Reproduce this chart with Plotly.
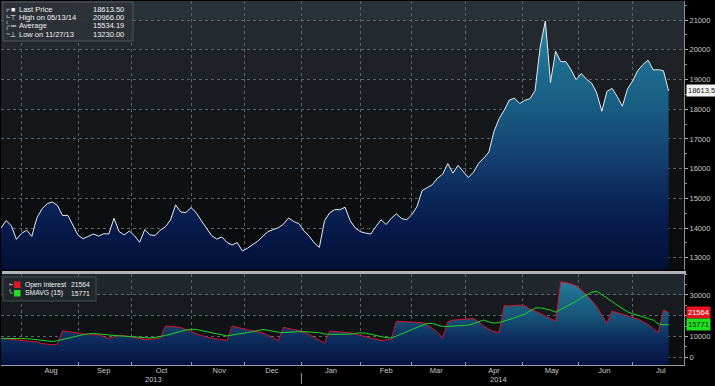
import plotly.graph_objects as go
import pandas as pd

# ---------------- data ----------------
START_DATE = "2013-07-22"   # every 2nd business day from here
price = [14000, 14250, 14080, 13620, 13820, 13930, 13720, 14350, 14650, 14820,
         14880, 14760, 14420, 14430, 14100, 13760, 13640, 13720, 13800, 13730,
         13810, 13800, 14330, 13880, 13770, 13900, 13740, 13520, 13950, 13770,
         13750, 13930, 14040, 14270, 14780, 14540, 14520, 14690, 14520, 14250,
         14000, 13750, 13630, 13700, 13520, 13430, 13510, 13230, 13320, 13430,
         13560, 13730, 13880, 13950, 14010, 14130, 14340, 14220, 14150, 13900,
         13730, 13500, 13350, 14250, 14510, 14620, 14620, 14700, 14250, 14000,
         13880, 13830, 13800, 14050, 14280, 14120, 14330, 14480, 14320, 14280,
         14450, 14720, 15260, 15360, 15460, 15680, 15810, 16170, 15850, 16110,
         15900, 15700, 15880, 16180, 16350, 16560, 17250, 17680, 17970, 18310,
         18370, 18190, 18300, 18350, 18630, 20100, 20966, 18900, 19950, 19600,
         19600, 19330, 18990, 19200, 19010, 18880, 18550, 17930, 18600, 18700,
         18420, 18100, 18680, 18950, 19300, 19500, 19650, 19320, 19330, 19290,
         18613.5]
open_interest = [9150, 8950, 8720, 8500, 8330, 8100, 7900, 7400, 6600, 6150,
                 6000, 6400, 12800, 12350, 11950, 11700, 11300, 10900, 10900, 10800,
                 9950, 8950, 9900, 10600, 10400, 10000, 9600, 9200, 8600, 8600,
                 9000, 9300, 15090, 14900, 14650, 14400, 13400, 12200, 11300, 10600,
                 9800, 9100, 8850, 8500, 8030, 15000, 14300, 13600, 13200, 12900,
                 12300, 11650, 10500, 9200, 8030, 14400, 13700, 13300, 12900, 12000,
                 11000, 9400, 8100, 6800, 12700, 12500, 12350, 12150, 11700, 11150,
                 10500, 9900, 9100, 8500, 8050, 8400, 8700, 17300, 17170, 17170,
                 16900, 16690, 16690, 15700, 14000, 12000, 9150, 17100, 17900, 18100,
                 18300, 18800, 18700, 17100, 15000, 13500, 12400, 11900, 24900, 24720,
                 24900, 25100, 24800, 23150, 22300, 21100, 19900, 18700, 17400, 36300,
                 36000, 35300, 34450, 32400, 30100, 27300, 24400, 20300, 16400, 22200,
                 21550, 20800, 19950, 19100, 18500, 17200, 15800, 13800, 12000, 22700,
                 21564]
smavg15 = [9150, 9150, 9150, 9150, 9100, 8950, 8750, 8500, 8150, 7850,
           7600, 8000, 8600, 9200, 9900, 10450, 10900, 11250, 11550, 11250,
           10950, 10700, 10500, 10300, 10200, 10050, 9900, 9600, 9300, 9300,
           9600, 9950, 10500, 11150, 11950, 12550, 13100, 13450, 13400, 12900,
           12400, 11800, 11200, 10600, 10300, 10750, 11250, 11500, 11950, 12300,
           12800, 13400, 13000, 12400, 12100, 11900, 12100, 12350, 12360, 12360,
           12250, 12100, 11850, 11200, 10950, 11050, 11100, 11070, 11200, 11500,
           11800, 11650, 11000, 10500, 9950, 9500, 9300, 10200, 11300, 12300,
           13500, 14450, 15400, 16300, 16300, 15500, 14900, 14850, 15000, 15150,
           15300, 15500, 16200, 17100, 17950, 17000, 16500, 16700, 17400, 18250,
           19000, 19900, 20800, 22300, 23700, 23800, 23300, 22750, 21700, 23000,
           24400, 25400, 27000, 28700, 30000, 31300, 31800, 30000, 28300, 26800,
           25100, 23500, 21900, 20900, 20300, 19550, 18700, 17900, 16100, 15600,
           15771]

legend_price_labels = ["Last Price", "High on 05/13/14", "Average", "Low on 11/27/13"]
legend_price_values = ["18613.50", "20966.00", "15534.19", "13230.00"]
legend_oi_labels = ["Open Interest", "SMAVG (15)"]
legend_oi_values = ["21564", "15771"]
last_price, last_oi, last_sma = 18613.5, 21564, 15771
price_ticks = [13000, 14000, 15000, 16000, 17000, 18000, 19000, 20000, 21000]
oi_ticks = [0, 10000, 20000, 30000]
oi_ticktext = ["0", "10000", "", "30000"]
year_labels = ["2013", "2014"]

dates = pd.bdate_range(start=START_DATE, periods=len(price), freq="2B")

# ---------------- layout constants ----------------
W, H = 715, 386
ML, MR, MT, MB = 1, 31, 1, 21
PW, PH = W - ML - MR, H - MT - MB
def xp(px): return (px - ML) / PW
def yp(py): return (H - MB - py) / PH

P_RANGE = [12606, 21640]
OI_RANGE = [-3700, 40100]
X_RANGE = ["2013-07-22", "2014-07-29"]
TICKFONT = dict(family="Liberation Sans, Arial, sans-serif", size=7.5, color="#c8c8c8")
GRID = "#5c656d"

fig = go.Figure()

fig.add_trace(go.Scatter(
    x=dates, y=price, mode="lines", line=dict(color="#e6edf2", width=1),
    fill="tozeroy",
    fillgradient=dict(type="vertical", start=P_RANGE[0], stop=P_RANGE[1],
                      colorscale=[[0, "#021036"], [0.15, "#06194a"], [0.3, "#0e2c5e"],
                                  [0.45, "#154574"], [0.6, "#195c82"], [0.75, "#1c6c8e"],
                                  [0.9, "#2a82a0"], [1, "#3a94b0"]]),
    xaxis="x", yaxis="y", hoverinfo="skip"))

fig.add_trace(go.Scatter(
    x=dates, y=[OI_RANGE[0]] * len(dates), mode="lines", line=dict(width=0),
    xaxis="x2", yaxis="y2", hoverinfo="skip"))
fig.add_trace(go.Scatter(
    x=dates, y=open_interest, mode="lines", line=dict(color="#d81030", width=1),
    fill="tonexty",
    fillgradient=dict(type="vertical", start=OI_RANGE[0], stop=OI_RANGE[1],
                      colorscale=[[0, "#041240"], [0.31, "#0e2f60"], [0.54, "#175579"],
                                  [0.77, "#1d6d8d"], [1, "#2e8aa6"]]),
    xaxis="x2", yaxis="y2", hoverinfo="skip"))
fig.add_trace(go.Scatter(
    x=dates, y=smavg15, mode="lines", line=dict(color="#22d422", width=1),
    xaxis="x2", yaxis="y2", hoverinfo="skip"))

top_dom = [yp(269.5), 1]
bot_dom = [0, yp(274)]

xcommon = dict(type="date", range=X_RANGE, rangebreaks=[dict(bounds=["sat", "mon"])],
               dtick="M1", tick0="2013-08-01", showgrid=True, gridcolor=GRID,
               griddash="dot", gridwidth=1, zeroline=False)
fig.update_layout(
    width=W, height=H, margin=dict(l=ML, r=MR, t=MT, b=MB),
    paper_bgcolor="#000000", plot_bgcolor="#000000", showlegend=False,
    xaxis=dict(**xcommon, anchor="y", domain=[0, 1], showticklabels=False, ticks=""),
    xaxis2=dict(**xcommon, anchor="y2", domain=[0, 1], matches="x",
                showticklabels=True, ticklabelmode="period", tickformat="%b",
                ticks="inside", ticklen=3, tickcolor="#a0a0a0", ticklabelstandoff=-2,
                showline=True, linecolor="#9a9a9a", linewidth=1, tickfont=TICKFONT),
    yaxis=dict(domain=top_dom, range=P_RANGE, side="right", tickvals=price_ticks,
               tickformat="d", showgrid=True, gridcolor=GRID, griddash="dot", zeroline=False,
               showline=True, linecolor="#8a9096", ticks="outside", ticklen=3,
               tickcolor="#b0b0b0", tickfont=TICKFONT,
               minor=dict(dtick=500, tick0=0, ticks="outside", ticklen=2, tickcolor="#909090")),
    yaxis2=dict(domain=bot_dom, range=OI_RANGE, side="right", tickvals=oi_ticks,
                ticktext=oi_ticktext, showgrid=True, gridcolor=GRID, griddash="dot",
                zeroline=False, showline=True, linecolor="#8a9096", ticks="outside",
                ticklen=3, tickcolor="#b0b0b0", tickfont=TICKFONT,
                minor=dict(dtick=5000, tick0=0, ticks="outside", ticklen=2, tickcolor="#909090")),
)

shapes = []
# background bands, top panel
top_edges = [P_RANGE[0], 13000, 14000, 15000, 16000, 17000, 18000, 19000, 20000, 21000, P_RANGE[1]]
top_cols = ["#0a0b0c", "#0b0c0e", "#0d0e10", "#0f1113", "#121416", "#15181b",
            "#191c20", "#1e2226", "#23292e", "#2a3239"]
for i, c in enumerate(top_cols):
    shapes.append(dict(type="rect", xref="x domain", yref="y", x0=0, x1=1,
                       y0=top_edges[i], y1=top_edges[i + 1], fillcolor=c,
                       line=dict(width=0), layer="below"))
bot_edges = [OI_RANGE[0], 0, 10000, 20000, 30000, OI_RANGE[1]]
bot_cols = ["#0a0c10", "#0b0d10", "#101316", "#171b1f", "#20272d"]
for i, c in enumerate(bot_cols):
    shapes.append(dict(type="rect", xref="x2 domain", yref="y2", x0=0, x1=1,
                       y0=bot_edges[i], y1=bot_edges[i + 1], fillcolor=c,
                       line=dict(width=0), layer="below"))
# separator bar between panels
shapes.append(dict(type="rect", xref="paper", yref="paper", x0=xp(2), x1=xp(686),
                   y0=yp(274), y1=yp(271), fillcolor="#b0b4b8", line=dict(width=0)))
# year separator
shapes.append(dict(type="line", xref="x2", yref="paper", x0="2014-01-01", x1="2014-01-01",
                   y0=yp(373), y1=yp(384), line=dict(color="#9a9a9a", width=1)))
# legend boxes
shapes.append(dict(type="rect", xref="paper", yref="paper", x0=xp(3), x1=xp(133),
                   y0=yp(41), y1=yp(2), fillcolor="rgba(44,50,56,0.92)",
                   line=dict(color="#50575e", width=1)))
shapes.append(dict(type="rect", xref="paper", yref="paper", x0=xp(3), x1=xp(96),
                   y0=yp(301), y1=yp(277), fillcolor="rgba(34,40,46,0.92)",
                   line=dict(color="#454c53", width=1)))
# tree connectors
conn = dict(color="#9aa2a8", width=1, dash="dot")
shapes.append(dict(type="line", xref="paper", yref="paper", x0=xp(7), x1=xp(7),
                   y0=yp(9), y1=yp(34), line=conn))
for r in [9.3, 17.5, 26, 34]:
    shapes.append(dict(type="line", xref="paper", yref="paper", x0=xp(7), x1=xp(10),
                       y0=yp(r), y1=yp(r), line=conn))
shapes.append(dict(type="line", xref="paper", yref="paper", x0=xp(10), x1=xp(10),
                   y0=yp(283), y1=yp(293), line=conn))
for r in [284.5, 293]:
    shapes.append(dict(type="line", xref="paper", yref="paper", x0=xp(10), x1=xp(13),
                       y0=yp(r), y1=yp(r), line=conn))
shapes.append(dict(type="rect", xref="paper", yref="paper", x0=xp(14), x1=xp(20.5),
                   y0=yp(288), y1=yp(281.5), fillcolor="#e01820", line=dict(width=0)))
shapes.append(dict(type="rect", xref="paper", yref="paper", x0=xp(14), x1=xp(20.5),
                   y0=yp(296.5), y1=yp(290), fillcolor="#22dd22", line=dict(width=0)))
fig.update_layout(shapes=shapes)

ann = []
LFONT = dict(family="Liberation Sans, Arial, sans-serif", size=7.5, color="#f2f2f2")
icons = ["■", "⊤", "═", "⊥"]
rows = [9.3, 17.5, 26, 34]
for ic, lab, val, r in zip(icons, legend_price_labels, legend_price_values, rows):
    ann.append(dict(xref="paper", yref="paper", x=xp(12.5), y=yp(r), text=ic, showarrow=False,
                    xanchor="center", yanchor="middle", font=dict(LFONT, size=7)))
    ann.append(dict(xref="paper", yref="paper", x=xp(17), y=yp(r), text=lab, showarrow=False,
                    xanchor="left", yanchor="middle", font=LFONT))
    ann.append(dict(xref="paper", yref="paper", x=xp(126), y=yp(r), text=val, showarrow=False,
                    xanchor="right", yanchor="middle", font=LFONT))
MFONT = dict(family="Liberation Sans, Arial, sans-serif", size=6.8, color="#f2f2f2")
for lab, val, r in zip(legend_oi_labels, legend_oi_values, [284.5, 293]):
    ann.append(dict(xref="paper", yref="paper", x=xp(22.5), y=yp(r), text=lab, showarrow=False,
                    xanchor="left", yanchor="middle", font=MFONT))
    ann.append(dict(xref="paper", yref="paper", x=xp(92), y=yp(r), text=val, showarrow=False,
                    xanchor="right", yanchor="middle", font=MFONT))
# last-value tags on the right axis
ann.append(dict(xref="paper", yref="y", x=xp(686), y=last_price, text="18613.5",
                showarrow=False, xanchor="left", yanchor="middle", bgcolor="#f4f4f4",
                borderpad=1, font=dict(TICKFONT, color="#202020")))
ann.append(dict(xref="paper", yref="y2", x=xp(686), y=last_oi, text=str(last_oi),
                showarrow=False, xanchor="left", yanchor="middle", bgcolor="#e3141f",
                borderpad=1, font=dict(TICKFONT, color="#ffffff")))
ann.append(dict(xref="paper", yref="y2", x=xp(686), y=last_sma, text=str(last_sma),
                showarrow=False, xanchor="left", yanchor="middle", bgcolor="#1fe01f",
                borderpad=1, font=dict(TICKFONT, color="#0a300a")))
# year labels
for lab, px in zip(year_labels, [153, 498]):
    ann.append(dict(xref="paper", yref="paper", x=xp(px), y=yp(379.5), text=lab,
                    showarrow=False, xanchor="center", yanchor="middle", font=TICKFONT))
fig.update_layout(annotations=ann)

fig.write_html("out.html", config={"displayModeBar": False},
               post_script="document.body.style.margin='0';document.body.style.overflow='hidden';")
